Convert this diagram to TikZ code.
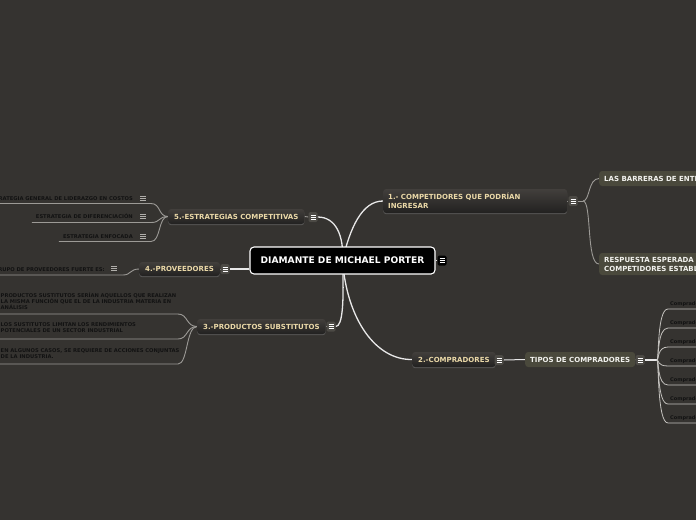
\documentclass[tikz,border=0pt]{standalone}
\usepackage{fontspec}
\setmainfont{DejaVu Sans}
\usetikzlibrary{backgrounds,shadows}
\definecolor{bg}{HTML}{353330}
\definecolor{brtop}{HTML}{423F3C}
\definecolor{brbot}{HTML}{222120}
\definecolor{brtext}{HTML}{EBD9A8}
\definecolor{subfill}{HTML}{4A493C}
\definecolor{subtext}{HTML}{F2F2EE}
\definecolor{leaftext}{HTML}{121212}
\definecolor{trunkcol}{HTML}{E8E8E8}
\definecolor{twig}{HTML}{9C9A96}
\definecolor{twiglight}{HTML}{C4C2BE}
\definecolor{iconfill}{HTML}{4C4A45}
\definecolor{leaficoncol}{HTML}{B0AEAA}
\tikzset{
  rootnode/.style={draw=white, line width=1.1pt, fill=black, rounded corners=4pt, text=white,
    font=\bfseries\fontsize{9.1}{10}\selectfont, minimum width=185pt, minimum height=27pt, inner sep=0pt},
  branchnode/.style={rounded corners=3pt, top color=brtop, bottom color=brbot, text=brtext,
    font=\bfseries\fontsize{7}{8.5}\selectfont, inner xsep=6pt, inner ysep=0pt, minimum height=15pt, anchor=west,
    drop shadow={shadow xshift=0pt, shadow yshift=-1.2pt, opacity=0.45}},
  subnode/.style={rounded corners=3pt, fill=subfill, text=subtext,
    font=\bfseries\fontsize{7}{9}\selectfont, inner xsep=5pt, inner ysep=0pt, minimum height=15pt, anchor=west},
  leafnode/.style={text=leaftext, font=\bfseries\fontsize{5.2}{6.3}\selectfont, inner sep=0pt},
  menuicon/.style={minimum width=9pt, minimum height=10pt, inner sep=0pt, rounded corners=1.5pt, fill=#1,
    path picture={\foreach \dy in {-2.2,0,2.2}{\draw[white, line width=0.6pt]
      ([xshift=-2.5pt, yshift=\dy pt]path picture bounding box.center) -- ++(5pt,0pt);}}},
  leaficon/.style={minimum width=7pt, minimum height=7pt, inner sep=0pt,
    path picture={\foreach \dy in {-2,0,2}{\draw[leaficoncol, line width=0.6pt]
      ([xshift=-2.7pt, yshift=\dy pt]path picture bounding box.center) -- ++(5.4pt,0pt);}}},
  trunk/.style={draw=trunkcol, line width=1.3pt},
  twigline/.style={draw=twig, line width=0.9pt},
  twiglt/.style={draw=twiglight, line width=0.8pt},
}
\begin{document}
\begin{tikzpicture}[x=1pt,y=-1pt]
\useasboundingbox (0,0) rectangle (696,520);
\clip (0,0) rectangle (696,520);
% ---------- nodes ----------
\node[rootnode] (root) at (342.5,260.5) {DIAMANTE DE MICHAEL PORTER};
\node[menuicon=black] (iroot) at (442,260.5) {};

\node[branchnode, text width=174pt, align=left, inner xsep=5pt, minimum height=24pt] (b1) at (383,201)
  {1.- COMPETIDORES QUE PODRÍAN\\INGRESAR};
\node[menuicon=iconfill] (i1) at (573,201) {};
\node[subnode] (s1) at (599,178.5) {LAS BARRERAS DE ENTRADA};
\node[subnode, align=left, minimum height=22pt] (s2) at (599,264)
  {RESPUESTA ESPERADA DE LOS\\COMPETIDORES ESTABLECIDOS};

\node[branchnode] (b2) at (412,359.5) {2.-COMPRADORES};
\node[menuicon=iconfill] (i2) at (499,360) {};
\node[subnode] (s3) at (525,359.5) {TIPOS DE COMPRADORES};
\node[menuicon=iconfill] (i3s) at (640,360) {};
\coordinate (jt) at (657,360);
\foreach \k/\yy in {1/309,2/328,3/347,4/366,5/385,6/404,7/423}{
  \coordinate (u\k) at (668,\yy);
  \node[leafnode, font=\bfseries\fontsize{5}{6}\selectfont, anchor=base west] (c\k) at (670,\yy-4) {Compradores};
}

\node[branchnode] (b3) at (197,326.5) {3.-PRODUCTOS SUBSTITUTOS};
\node[menuicon=iconfill] (i3) at (331,326.5) {};
\node[leafnode, align=left, anchor=north west] (l31) at (0.5,292.3)
  {PRODUCTOS SUSTITUTOS SERÍAN AQUELLOS QUE REALIZAN\\LA MISMA FUNCIÓN QUE EL DE LA INDUSTRIA MATERIA EN\\ANÁLISIS};
\node[leafnode, align=left, anchor=north west] (l32) at (0.5,322.6)
  {LOS SUSTITUTOS LIMITAN LOS RENDIMIENTOS\\POTENCIALES DE UN SECTOR INDUSTRIAL};
\node[leafnode, align=left, anchor=north west] (l33) at (0.5,348.0)
  {EN ALGUNOS CASOS, SE REQUIERE DE ACCIONES CONJUNTAS\\DE LA INDUSTRIA.};
\coordinate (u31) at (178,314);
\coordinate (u32) at (178,339);
\coordinate (u33) at (178,364);

\node[branchnode, minimum height=14pt] (b4) at (139,269) {4.-PROVEEDORES};
\node[menuicon=iconfill] (i4) at (225,269) {};
\node[leafnode, anchor=base east] (l41) at (105,271) {GRUPO DE PROVEEDORES FUERTE ES:};
\node[leaficon] (k41) at (114,268.5) {};
\coordinate (u41) at (123,275);

\node[branchnode] (b5) at (168,216.5) {5.-ESTRATEGIAS COMPETITIVAS};
\node[menuicon=iconfill] (i5) at (313,217) {};
\node[leafnode, anchor=base east] (l51) at (133,200) {ESTRATEGIA GENERAL DE LIDERAZGO EN COSTOS};
\node[leafnode, anchor=base east] (l52) at (133,218.7) {ESTRATEGIA DE DIFERENCIACIÓN};
\node[leafnode, anchor=base east] (l53) at (133,238) {ESTRATEGIA ENFOCADA};
\node[leaficon] (k51) at (143,198) {};
\node[leaficon] (k52) at (143,216.5) {};
\node[leaficon] (k53) at (143,236) {};
\coordinate (u51) at (151,203.5);
\coordinate (u52) at (151,222.5);
\coordinate (u53) at (151,241.5);
\coordinate (j1) at (583,201);

% ---------- connectors ----------
\begin{pgfonlayer}{background}
\fill[bg] (0,0) rectangle (696,520);
\draw[trunk] (root.center) .. controls (350,228) and (362,201) .. (b1.west);
\draw[trunk] (root.center) .. controls (347,320) and (376,360) .. (b2.west);
\draw[trunk] (i5.east) .. controls (336,217) and (344,236) .. (root.center);
\draw[trunk] (i3.east) .. controls (343,326.5) and (344,300) .. (root.center);
\draw[trunk] (i4.east) -- (root.west |- i4.east);
\draw[trunk] (root.east) -- (iroot.west);
% branch to icon ticks
\draw[twigline] (b1.east) -- (i1.west);
\draw[twigline] (b2.east) -- (i2.west);
\draw[twigline] (b3.east) -- (i3.west);
\draw[twigline] (b4.east) -- (i4.west);
\draw[twigline] (b5.east) -- (i5.west);
\draw[twigline] (s3.east) -- (i3s.west);
% 1.- children
\draw[twigline] (i1.east) -- (j1);
\draw[twigline] (j1) .. controls (590,201) and (588,178.5) .. (s1.west);
\draw[twigline] (j1) .. controls (592,201) and (586,264) .. (s2.west);
% 2.- children
\draw[trunk, line width=1pt] (i2.east) -- (s3.west);
\draw[trunk, line width=1.1pt] (i3s.east) -- (jt);
\foreach \k in {1,...,7}{
  \draw[twiglt] (jt) .. controls (659,360) and (657,0 |- u\k) .. (u\k) -- (u\k -| 697,0);
}
% 3.- leaves
\foreach \k in {1,2,3}{
  \draw[twigline] (u3\k -| 0,0) -- (u3\k) .. controls (188,0 |- u3\k) and (186,326.5) .. (b3.west);
}
% 4.- leaf
\draw[twigline] (u41 -| 0,0) -- (u41) .. controls (131,275) and (130,269) .. (b4.west);
% 5.- leaves
\draw[twigline] (u51 -| l51.west) -- (u51) .. controls (161,203.5) and (158,216.5) .. (b5.west);
\draw[twigline] ([xshift=-4pt]u52 -| l52.west) -- (u52) .. controls (161,222.5) and (158,216.5) .. (b5.west);
\draw[twigline] ([xshift=-4pt]u53 -| l53.west) -- (u53) .. controls (161,241.5) and (158,216.5) .. (b5.west);
\end{pgfonlayer}
\end{tikzpicture}
\end{document}
